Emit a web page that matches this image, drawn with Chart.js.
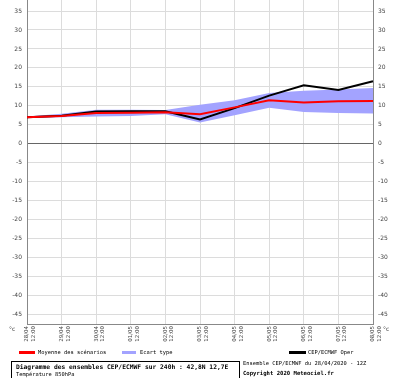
<!DOCTYPE html>
<html>
<head>
<meta charset="utf-8">
<script src="https://cdn.jsdelivr.net/npm/chart.js@4"></script>
<style>
  body { margin: 0; background: #fff; }
  #wrap { position: relative; width: 400px; height: 378px; overflow: hidden; }
  #chart { position: absolute; left: 0; top: 0; }
  .t { position: absolute; font-family: "DejaVu Sans Mono", monospace; font-size: 5.4px; color: #000; white-space: nowrap; line-height: 1; }
  .unit { position: absolute; font-family: "DejaVu Sans", sans-serif; font-size: 6px; color: #444; }
  .sw { position: absolute; height: 3px; }
  #box { position: absolute; left: 11px; top: 361px; width: 229px; height: 20px; border: 1px solid #000; box-sizing: border-box; }
</style>
</head>
<body>
<div id="wrap">
  <canvas id="chart" width="400" height="345"></canvas>
  <div class="unit" style="left:9px; top:325px;">°c</div>
  <div class="unit" style="left:383px; top:325px;">°c</div>

  <div class="sw" style="left:19px; top:351px; width:16px; background:#ff0000;"></div>
  <div class="t" style="left:38px; top:350px;">Moyenne des scénarios</div>
  <div class="sw" style="left:122px; top:351px; width:14px; background:#a3a3ff;"></div>
  <div class="t" style="left:140px; top:350px;">Ecart type</div>
  <div class="sw" style="left:289px; top:351px; width:17px; background:#000;"></div>
  <div class="t" style="left:308px; top:350px;">CEP/ECMWF Oper</div>

  <div id="box"></div>
  <div class="t" style="left:16px; top:364px; font-size:6.3px; font-weight:bold;">Diagramme des ensembles CEP/ECMWF sur 240h : 42,8N 12,7E</div>
  <div class="t" style="left:16px; top:372px;">Température 850hPa</div>
  <div class="t" style="left:243px; top:361px;">Ensemble CEP/ECMWF du 28/04/2020 - 12Z</div>
  <div class="t" style="left:243px; top:371px; font-weight:bold; font-size:5.6px;">Copyright 2020 Meteociel.fr</div>
</div>
<script>
const dates = ["28/04", "29/04", "30/04", "01/05", "02/05", "03/05", "04/05", "05/05", "06/05", "07/05", "08/05"];
const hours = ["12:00", "12:00", "12:00", "12:00", "12:00", "12:00", "12:00", "12:00", "12:00", "12:00", "12:00"];
const moyenne = [7.0, 7.3, 8.1, 8.2, 8.3, 7.8, 9.6, 11.5, 10.9, 11.2, 11.3];
const oper = [7.0, 7.4, 8.5, 8.6, 8.6, 6.4, 9.4, 12.7, 15.4, 14.2, 16.5];
const ecartHaut = [7.2, 7.9, 9.0, 9.0, 8.9, 10.3, 11.5, 13.4, 14.0, 14.3, 14.7];
const ecartBas = [6.8, 7.0, 7.2, 7.3, 7.8, 5.6, 7.5, 9.5, 8.4, 8.1, 8.0];
const yTicks = [-45, -40, -35, -30, -25, -20, -15, -10, -5, 0, 5, 10, 15, 20, 25, 30, 35];

const labels = dates.map((d, i) => [d, hours[i]]);
const tickFont = { family: "DejaVu Sans", size: 6 };

const setTicks = scale => { scale.ticks = yTicks.map(v => ({ value: v })); };
// no extra padding for the outer tick labels, the plot fills the canvas
const fitY = scale => {
  scale.width = 27;
  scale.paddingTop = 0;
  scale.paddingBottom = 0;
};

new Chart(document.getElementById("chart"), {
  type: "line",
  data: {
    labels: labels,
    datasets: [
      {
        label: "Moyenne des scénarios",
        data: moyenne,
        borderColor: "#ff0000",
        borderWidth: 2,
        pointRadius: 0,
        fill: false,
        order: 0
      },
      {
        label: "CEP/ECMWF Oper",
        data: oper,
        borderColor: "#000000",
        borderWidth: 2,
        pointRadius: 0,
        fill: false,
        order: 1
      },
      {
        label: "Ecart haut",
        data: ecartHaut,
        borderWidth: 0,
        borderColor: "rgba(0,0,0,0)",
        backgroundColor: "#a3a3ff",
        pointRadius: 0,
        fill: false,
        order: 2
      },
      {
        label: "Ecart type",
        data: ecartBas,
        borderWidth: 0,
        borderColor: "rgba(0,0,0,0)",
        backgroundColor: "#a3a3ff",
        pointRadius: 0,
        fill: "-1",
        order: 3
      }
    ]
  },
  options: {
    responsive: false,
    animation: false,
    layout: { padding: 0 },
    plugins: { legend: { display: false }, tooltip: { enabled: false } },
    scales: {
      x: {
        grid: { color: "#dcdcdc", drawTicks: false },
        border: { color: "#888" },
        ticks: {
          autoSkip: false,
          maxRotation: 90,
          minRotation: 90,
          padding: 2,
          color: "#444",
          font: { family: "DejaVu Sans", size: 5.5 }
        },
        afterFit: scale => {
          scale.height = 21;
          scale.paddingLeft = 0;
          scale.paddingRight = 0;
        }
      },
      y: {
        position: "left",
        min: -47.5,
        max: 37.9,
        afterBuildTicks: setTicks,
        grid: {
          drawTicks: false,
          color: ctx => (ctx.tick && ctx.tick.value === 0 ? "#666" : "#dcdcdc")
        },
        border: { color: "#888" },
        ticks: { padding: 5, color: "#444", font: tickFont },
        afterFit: fitY
      },
      y2: {
        position: "right",
        min: -47.5,
        max: 37.9,
        afterBuildTicks: setTicks,
        grid: { drawOnChartArea: false, drawTicks: false },
        border: { color: "#888" },
        ticks: { padding: 5, color: "#444", font: tickFont },
        afterFit: fitY
      }
    }
  }
});
</script>
</body>
</html>
